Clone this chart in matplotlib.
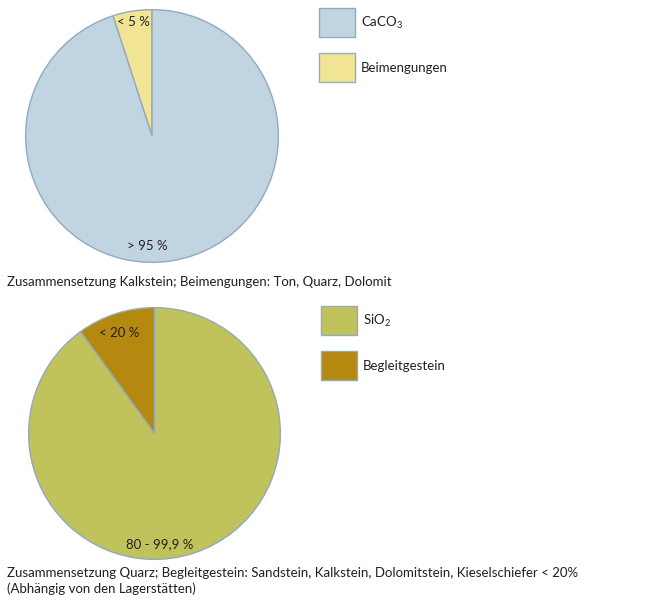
import matplotlib
matplotlib.use("Agg")
import matplotlib.pyplot as plt
from matplotlib.patches import Rectangle

plt.rcParams['font.family'] = ['Lato', 'DejaVu Sans']
plt.rcParams['mathtext.fontset'] = 'custom'
plt.rcParams['mathtext.rm'] = 'Lato'
plt.rcParams['mathtext.it'] = 'Lato'

W, H = 660, 603

# data
kalk_names = ["Beimengungen", "CaCO$_3$"]
kalk_values = [5, 95]
kalk_labels = ["< 5 %", "> 95 %"]
kalk_colors = ["#f1e595", "#c1d4e1"]
kalk_caption = "Zusammensetzung Kalkstein; Beimengungen: Ton, Quarz, Dolomit"

quarz_names = ["Begleitgestein", "SiO$_2$"]
quarz_values = [10, 90]
quarz_labels = ["< 20 %", "80 - 99,9 %"]
quarz_colors = ["#b5880f", "#c0c35b"]
quarz_caption = ("Zusammensetzung Quarz; Begleitgestein: Sandstein, Kalkstein, Dolomitstein, Kieselschiefer < 20%\n"
                 "(Abhängig von den Lagerstätten)")

edge = "#93aabb"
fs = 9.5

fig = plt.figure(figsize=(W / 100, H / 100), dpi=100)


def px_axes(x0, y0, x1, y1):
    return fig.add_axes([x0 / W, 1 - y1 / H, (x1 - x0) / W, (y1 - y0) / H])


def draw_pie(box, values, colors, labels, label_pos):
    ax = px_axes(*box)
    ax.pie(values, colors=colors, startangle=90, counterclock=True, radius=1,
           wedgeprops=dict(edgecolor=edge, linewidth=1.0))
    ax.set_xlim(-1.005, 1.005)
    ax.set_ylim(-1.005, 1.005)
    ax.set_aspect('auto')
    ax.axis('off')
    for lab, (x, y) in zip(labels, label_pos):
        ax.text(x, y, lab, ha='center', va='center', fontsize=fs, color='#231f20')
    return ax


def legend_box(x, y, names, colors):
    for i, (n, c) in enumerate(zip(names, colors)):
        yy = y + i * 45
        fig.add_artist(Rectangle((x / W, 1 - (yy + 29) / H), 36 / W, 29 / H,
                                 transform=fig.transFigure, facecolor=c,
                                 edgecolor=edge, linewidth=1.0))
        fig.text((x + 42) / W, 1 - (yy + 15) / H, n, ha='left', va='center',
                 fontsize=fs, color='#231f20')


draw_pie((25, 9, 279, 263), kalk_values, kalk_colors, kalk_labels,
         [(-0.15, 0.90), (-0.04, -0.87)])
legend_box(319, 8, kalk_names[::-1], kalk_colors[::-1])
fig.text(7 / W, 1 - 282 / H, kalk_caption, ha='left', va='center',
         fontsize=fs, color='#231f20')

draw_pie((28, 307, 281, 560), quarz_values, quarz_colors, quarz_labels,
         [(-0.28, 0.80), (0.04, -0.88)])
legend_box(321, 306, quarz_names[::-1], quarz_colors[::-1])
fig.text(7 / W, 1 - 581 / H, quarz_caption, ha='left', va='center',
         fontsize=fs, color='#231f20', linespacing=1.3)

fig.savefig("out.png", dpi=100, facecolor='white')
